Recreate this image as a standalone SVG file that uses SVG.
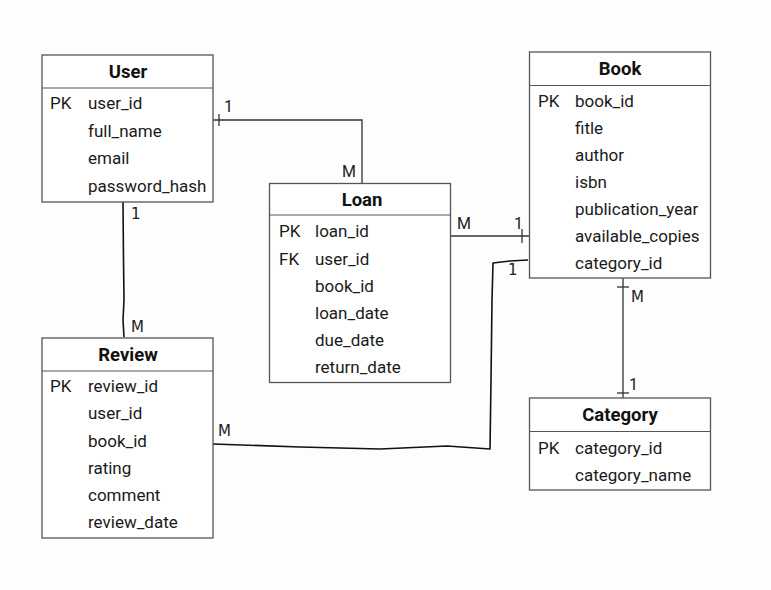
<svg xmlns="http://www.w3.org/2000/svg" width="771" height="590" viewBox="0 0 771 590">
<style>
.box{fill:#fff;stroke:#555;stroke-width:1.3}
.div{stroke:#555;stroke-width:1.2}
.t{font-family:Roboto,"Liberation Sans",sans-serif;font-size:17px;fill:#1a1a1a}
.h{font-family:Roboto,"Liberation Sans",sans-serif;font-size:18.5px;font-weight:bold;fill:#111;text-anchor:middle}
.c{fill:none;stroke:#333;stroke-width:1.3}
.hc{fill:none;stroke:#111;stroke-width:1.6;stroke-linejoin:round}
.l{font-family:Roboto,"Liberation Sans",sans-serif;font-size:16px;fill:#222}
.hl{font-family:"DejaVu Sans",sans-serif;font-size:15px;fill:#222;font-weight:normal}
</style>
<rect width="771" height="590" fill="#fdfdfd"/>
<g id="connectors">
<path class="c" d="M213 120 H362 V184"/>
<path class="c" d="M219 114 V126"/>
<path class="c" d="M451 236 H529"/>
<path class="c" d="M522 229 V243"/>
<path class="c" d="M623 278 V398"/>
<path class="c" d="M617 287 H629"/>
<path class="c" d="M617 393 H629"/>
<path class="hc" d="M123 202 L123.5 260 L124 300 L123 320 L124 337"/>
<path class="hc" d="M213 444 L300 447 L380 449 L447 446 L490 449 L491 380 L492 300 L493 263 L510 261 L528 260"/>
<text class="l" x="224" y="112">1</text>
<text class="l" x="342" y="177">M</text>
<text class="l" x="457" y="229">M</text>
<text class="l" x="514" y="229">1</text>
<text class="hl" x="508" y="275">1</text>
<text class="hl" x="631" y="302">M</text>
<text class="l" x="629" y="390">1</text>
<text class="hl" x="131" y="219">1</text>
<text class="hl" x="131" y="332">M</text>
<text class="hl" x="218" y="436">M</text>
</g>
<g id="user">
<rect class="box" x="42" y="55" width="171" height="147"/>
<line class="div" x1="42" y1="88" x2="213" y2="88"/>
<text class="h" x="128" y="78">User</text>
<text class="t" x="50" y="109">PK</text>
<text class="t" x="88" y="109">user_id</text>
<text class="t" x="88" y="137">full_name</text>
<text class="t" x="88" y="164">email</text>
<text class="t" x="88" y="192">password_hash</text>
</g>
<g id="loan">
<rect class="box" x="269.5" y="183.5" width="181" height="199"/>
<line class="div" x1="269.5" y1="215" x2="450.5" y2="215"/>
<text class="h" x="362" y="206">Loan</text>
<text class="t" x="279" y="237">PK</text>
<text class="t" x="315" y="237">loan_id</text>
<text class="t" x="279" y="265">FK</text>
<text class="t" x="315" y="265">user_id</text>
<text class="t" x="315" y="292">book_id</text>
<text class="t" x="315" y="319">loan_date</text>
<text class="t" x="315" y="346">due_date</text>
<text class="t" x="315" y="373">return_date</text>
</g>
<g id="book">
<rect class="box" x="529.5" y="52" width="181" height="226"/>
<line class="div" x1="529.5" y1="85.5" x2="710.5" y2="85.5"/>
<text class="h" x="620" y="75">Book</text>
<text class="t" x="538" y="107">PK</text>
<text class="t" x="575" y="107">book_id</text>
<text class="t" x="575" y="134">fitle</text>
<text class="t" x="575" y="161">author</text>
<text class="t" x="575" y="188">isbn</text>
<text class="t" x="575" y="215">publication_year</text>
<text class="t" x="575" y="242">available_copies</text>
<text class="t" x="575" y="269">category_id</text>
</g>
<g id="category">
<rect class="box" x="529.5" y="398" width="181" height="92"/>
<line class="div" x1="529.5" y1="431.5" x2="710.5" y2="431.5"/>
<text class="h" x="620" y="421">Category</text>
<text class="t" x="538" y="454">PK</text>
<text class="t" x="575" y="454">category_id</text>
<text class="t" x="575" y="481">category_name</text>
</g>
<g id="review">
<rect class="box" x="42" y="338" width="171" height="200"/>
<line class="div" x1="42" y1="371" x2="213" y2="371"/>
<text class="h" x="128" y="361">Review</text>
<text class="t" x="50" y="392">PK</text>
<text class="t" x="88" y="392">review_id</text>
<text class="t" x="88" y="419">user_id</text>
<text class="t" x="88" y="447">book_id</text>
<text class="t" x="88" y="474">rating</text>
<text class="t" x="88" y="501">comment</text>
<text class="t" x="88" y="528">review_date</text>
</g>
</svg>
